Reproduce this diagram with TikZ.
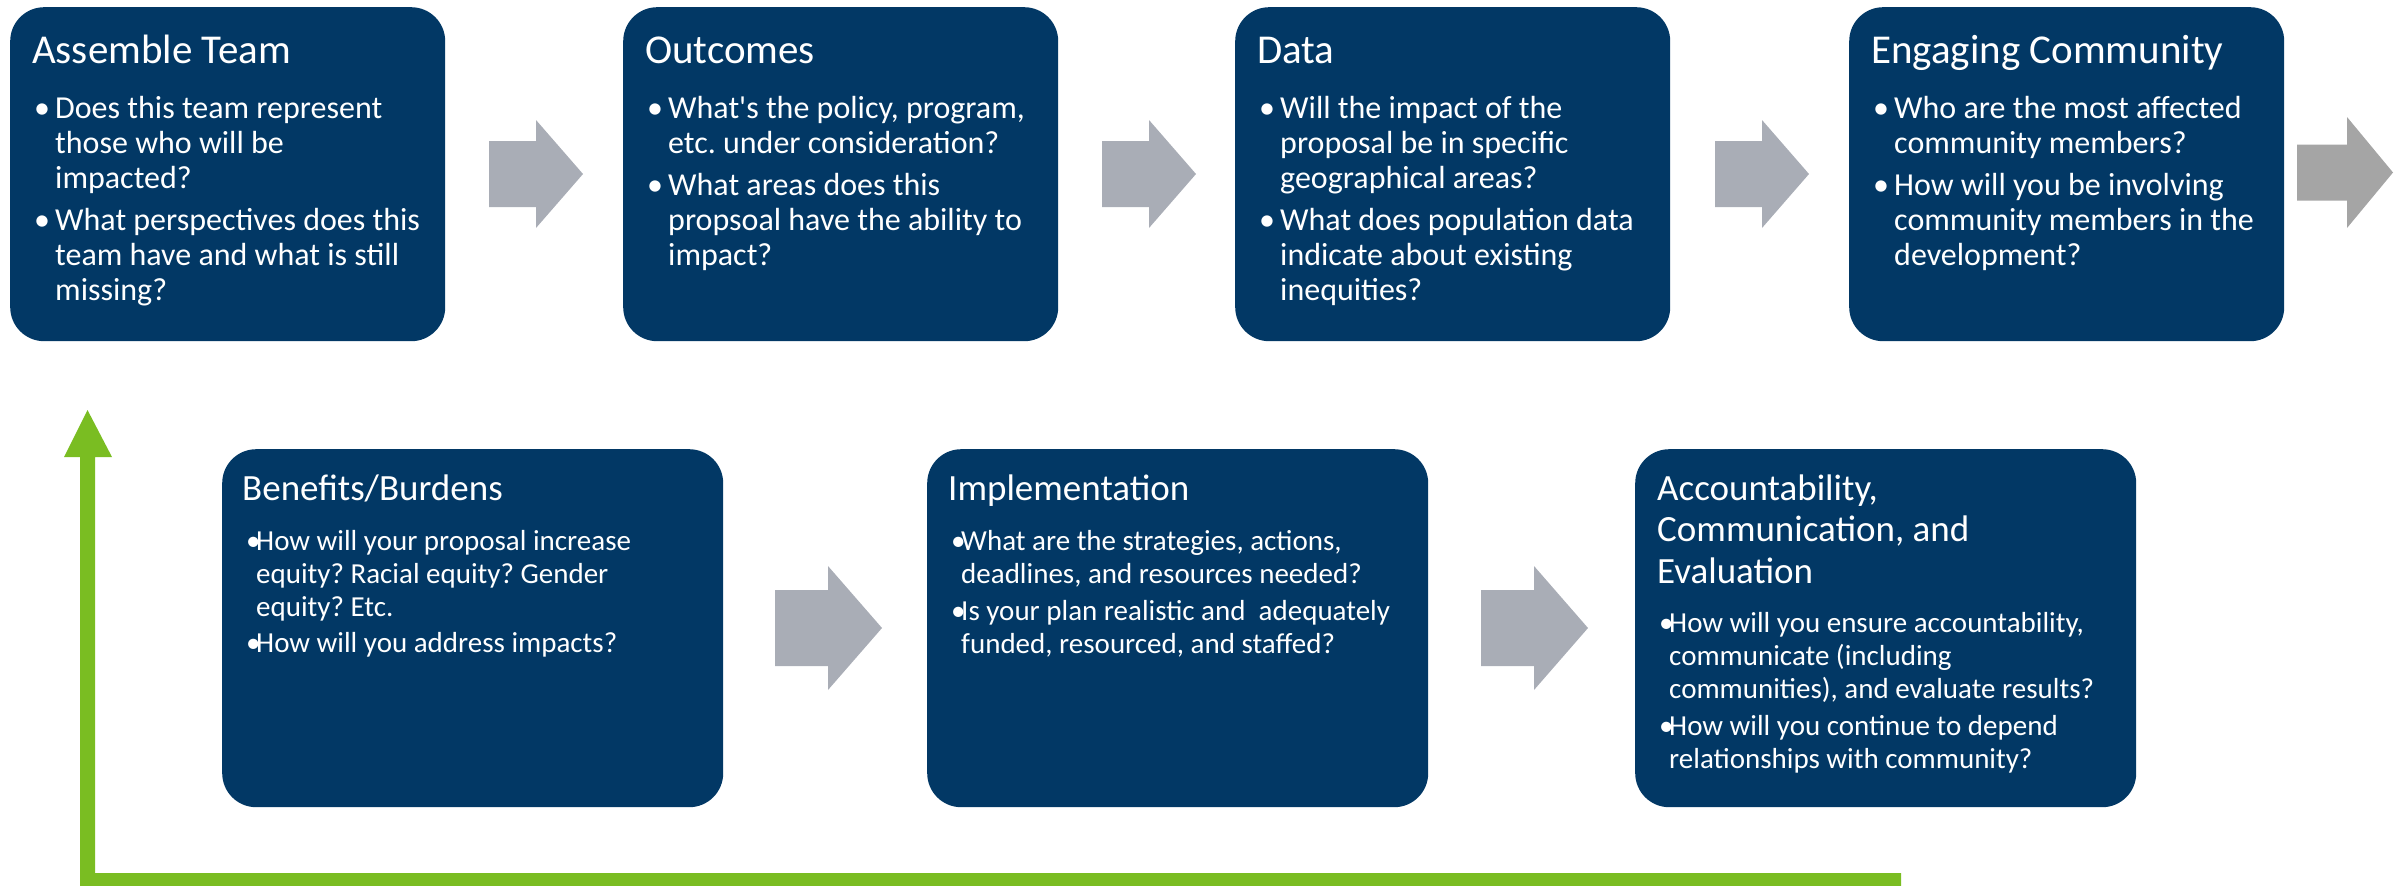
\documentclass[tikz,border=0pt]{standalone}
\usepackage{fontspec}
\setmainfont{Carlito}
\usetikzlibrary{calc}
\frenchspacing
\definecolor{navy}{RGB}{2,56,101}
\definecolor{arrgrey}{RGB}{169,173,182}
\definecolor{arrgreytwo}{RGB}{165,165,165}
\definecolor{loopgreen}{RGB}{122,189,34}
\newcommand{\tbul}[1]{\par\hangindent=21pt\hangafter=1\noindent\makebox[21pt][l]{\textbullet}#1\par}
\newcommand{\bbul}[1]{\par\hangindent=10pt\hangafter=1\noindent\makebox[10pt][l]{\textbullet}#1\par}
\newcommand{\blockarr}[7]{%
  \fill[#1] (#2,#3-#6) -- (#2+#4-#5,#3-#6) -- (#2+#4-#5,#3-#7) -- (#2+#4,#3)
    -- (#2+#4-#5,#3+#7) -- (#2+#4-#5,#3+#6) -- (#2,#3+#6) -- cycle;}
\tikzset{
  box/.style={fill=navy, rounded corners=34pt, anchor=north west, inner sep=0pt},
  tbox/.style={box, minimum width=435pt, minimum height=334pt},
  bbox/.style={box, minimum width=501pt, minimum height=358pt},
  ttitle/.style={anchor=base west, inner sep=0pt, text=white, font=\fontsize{41}{45}\selectfont},
  btitle/.style={anchor=base west, inner sep=0pt, text=white, font=\fontsize{37}{42}\selectfont, align=left},
  body/.style={anchor=base west, inner sep=0pt, text=white},
}
\begin{document}
\begin{tikzpicture}[x=1pt,y=-1pt]
\useasboundingbox (0,0) rectangle (2394,886);
% top row boxes
\node[tbox] (b1) at (10,7) {};
\node[tbox] (b2) at (623,7) {};
\node[tbox] (b3) at (1235,7) {};
\node[tbox] (b4) at (1849,7) {};
% bottom row boxes
\node[bbox] (b5) at (222,449) {};
\node[bbox] (b6) at (927,449) {};
\node[bbox] (b7) at (1635,449) {};
% titles
\node[ttitle] (h1) at ($(b1.north west)+(22,56)$) {Assemble Team};
\node[ttitle] (h2) at ($(b2.north west)+(22,56)$) {Outcomes};
\node[ttitle] (h3) at ($(b3.north west)+(22,56)$) {Data};
\node[ttitle] (h4) at ($(b4.north west)+(22,56)$) {Engaging Community};
\node[btitle] (h5) at ($(b5.north west)+(20,51)$) {Benefits/Burdens};
\node[btitle] (h6) at ($(b6.north west)+(21,51)$) {Implementation};
\node[btitle] (h7) at ($(b7.north west)+(22,51)$) {\begin{minipage}[t]{470pt}\fontsize{37}{41.5}\selectfont\raggedright Accountability,\\Communication, and\\Evaluation\end{minipage}};
% top bodies
\node[body] (t1) at ($(b1.north west)+(24,111)$) {\begin{minipage}[t]{420pt}\fontsize{32}{35}\selectfont
\tbul{Does this team represent\newline those who will be\newline impacted?}\vspace{7pt}
\tbul{What perspectives does this\newline team have and what is still\newline missing?}\end{minipage}};
\node[body] (t2) at ($(b2.north west)+(24,111)$) {\begin{minipage}[t]{420pt}\fontsize{32}{35}\selectfont
\tbul{What\textquotesingle s the policy, program,\newline etc. under consideration?}\vspace{7pt}
\tbul{What areas does this\newline propsoal have the ability to\newline impact?}\end{minipage}};
\node[body] (t3) at ($(b3.north west)+(24,111)$) {\begin{minipage}[t]{420pt}\fontsize{32}{35}\selectfont
\tbul{Will the impact of the\newline proposal be in specific\newline geographical areas?}\vspace{7pt}
\tbul{What does population data\newline indicate about existing\newline inequities?}\end{minipage}};
\node[body] (t4) at ($(b4.north west)+(24,111)$) {\begin{minipage}[t]{420pt}\fontsize{32}{35}\selectfont
\tbul{Who are the most affected\newline community members?}\vspace{7pt}
\tbul{How will you be involving\newline community members in the\newline development?}\end{minipage}};
% bottom bodies
\node[body] (t5) at ($(b5.north west)+(24,101)$) {\begin{minipage}[t]{470pt}\fontsize{29}{33}\selectfont
\bbul{How will your proposal increase\newline equity? Racial equity? Gender\newline equity? Etc.}\vspace{3pt}
\bbul{How will you address impacts?}\end{minipage}};
\node[body] (t6) at ($(b6.north west)+(24,101)$) {\begin{minipage}[t]{470pt}\fontsize{29}{33}\selectfont
\bbul{What are the strategies, actions,\newline deadlines, and resources needed?}\vspace{4pt}
\bbul{Is your plan realistic and \ adequately\newline funded, resourced, and staffed?}\end{minipage}};
\node[body] (t7) at ($(b7.north west)+(24,183)$) {\begin{minipage}[t]{470pt}\fontsize{29}{33}\selectfont
\bbul{How will you ensure accountability,\newline communicate (including\newline communities), and evaluate results?}\vspace{4pt}
\bbul{How will you continue to depend\newline relationships with community?}\end{minipage}};
% block arrows: color, x-left, y-centre, length, head length, shaft half, head half
\blockarr{arrgrey}{489}{174}{94}{47}{33}{54}
\blockarr{arrgrey}{1102}{174}{94}{47}{33}{54}
\blockarr{arrgrey}{1715}{174}{94}{47}{33}{54}
\blockarr{arrgreytwo}{2297}{172.5}{96}{46}{28}{55.5}
\blockarr{arrgrey}{775}{628}{107}{54}{38}{62}
\blockarr{arrgrey}{1481}{628}{107}{54}{38}{62}
% green loop-back arrow
\fill[loopgreen] (64,457) -- (87.5,410) -- (112,457) -- (95,457) -- (95,873)
  -- (1901,873) -- (1901,886) -- (80,886) -- (80,457) -- cycle;
\end{tikzpicture}
\end{document}
